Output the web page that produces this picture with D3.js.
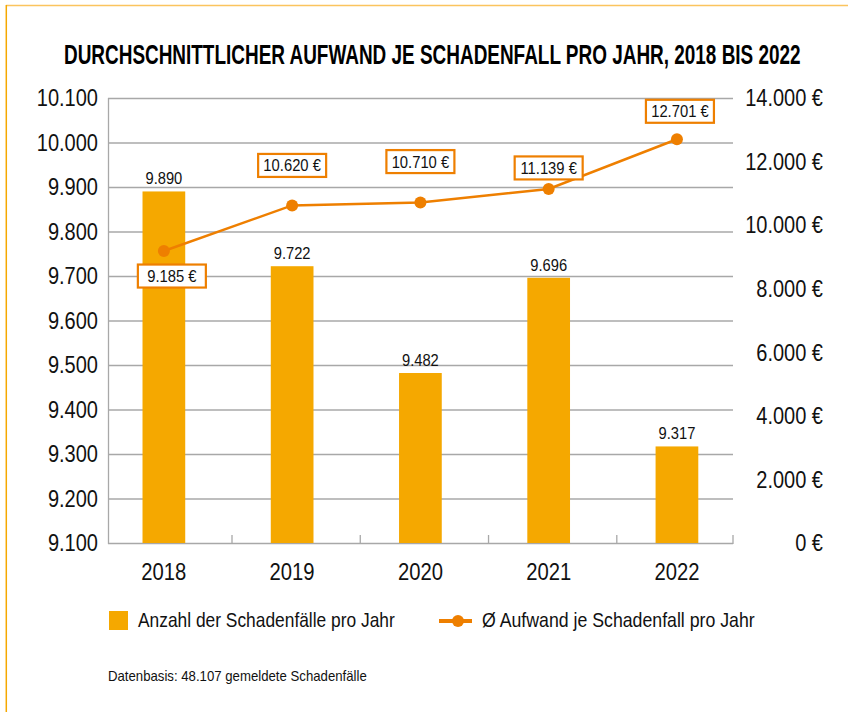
<!DOCTYPE html>
<html>
<head>
<meta charset="utf-8">
<script src="https://cdn.jsdelivr.net/npm/d3@7"></script>
<style>
  body { margin: 0; background: #fff; }
  svg { display: block; font-family: "Liberation Sans", Arial, sans-serif; }
</style>
</head>
<body>
<svg width="848" height="712"></svg>
<script>
const years = ["2018", "2019", "2020", "2021", "2022"];
const claimCounts = [9890, 9722, 9482, 9696, 9317];
const avgCost = [9185, 10620, 10710, 11139, 12701];
const leftTicks = d3.range(9100, 10101, 100);
const rightTicks = [0, 2000, 4000, 6000, 8000, 10000, 12000, 14000];
// where each cost label box sits relative to its point
const labelOffsets = [[8, 25], [0, -40], [0, -41], [0, -21], [3, -28]];

const barColor = "#f5a800";
const lineColor = "#ee7f00";
const gridColor = "#a8a8a8";
const textColor = "#111";

const de = d3.formatLocale({decimal: ",", thousands: ".", grouping: [3], currency: ["", " €"]});
const fmt = de.format(",d");
const fmtEur = d => fmt(d) + " €";

const svg = d3.select("svg");

// squeeze text horizontally to look like a narrow font
function narrow(sel, s) {
    sel.attr("transform", function() {
        const tx = +this.getAttribute("x") || 0, ty = +this.getAttribute("y") || 0;
        return `translate(${tx},${ty}) scale(${s},1) translate(${-tx},${-ty})`;
    });
}
function fitWidth(sel, w) {
    sel.each(function() {
        narrow(d3.select(this), w / this.getComputedTextLength());
    });
}

// frame
svg.append("line").attr("x1", 6).attr("x2", 848).attr("y1", 5.5).attr("y2", 5.5)
    .attr("stroke", "#fbc45e").attr("stroke-width", 1.5);
svg.append("line").attr("x1", 6.3).attr("x2", 6.3).attr("y1", 5).attr("y2", 712)
    .attr("stroke", barColor).attr("stroke-width", 1.5);

svg.append("text")
    .attr("x", 64).attr("y", 64)
    .attr("font-size", 27).attr("font-weight", "bold").attr("fill", "#000")
    .text("DURCHSCHNITTLICHER AUFWAND JE SCHADENFALL PRO JAHR, 2018 BIS 2022")
    .call(fitWidth, 737);

const plotLeft = 108, plotRight = 733, plotTop = 98, plotBottom = 543;

const x = d3.scaleBand().domain(years).range([99.8, 741]).paddingInner(0.667).paddingOuter(0.333);
const yL = d3.scaleLinear().domain([9100, 10100]).range([plotBottom, plotTop]);
const yR = d3.scaleLinear().domain([0, 14000]).range([plotBottom, plotTop]);

// gridlines
svg.append("g").selectAll("line").data(leftTicks).enter().append("line")
    .attr("x1", plotLeft).attr("x2", plotRight)
    .attr("y1", d => yL(d) + 0.5).attr("y2", d => yL(d) + 0.5)
    .attr("stroke", gridColor).attr("stroke-width", 1.3);

svg.append("line").attr("x1", plotLeft + 0.5).attr("x2", plotLeft + 0.5)
    .attr("y1", plotTop).attr("y2", plotBottom + 1)
    .attr("stroke", gridColor).attr("stroke-width", 1.3);

// x ticks between categories
const step = x.step();
const tickXs = years.slice(1).map(y => x(y) + x.bandwidth() / 2 - step / 2 + 4);
tickXs.push(plotRight);
svg.append("g").selectAll("line").data(tickXs).enter().append("line")
    .attr("x1", d => d).attr("x2", d => d)
    .attr("y1", plotBottom - 8).attr("y2", plotBottom + 1)
    .attr("stroke", gridColor).attr("stroke-width", 1.3);

// left axis labels
svg.append("g").selectAll("text").data(leftTicks).enter().append("text")
    .attr("x", 98).attr("y", d => yL(d) + 8.3)
    .attr("text-anchor", "end").attr("font-size", 23).attr("fill", textColor)
    .text(d => fmt(d))
    .call(narrow, 0.87);

// right axis labels
svg.append("g").selectAll("text").data(rightTicks).enter().append("text")
    .attr("x", 823).attr("y", d => yR(d) + 8.3)
    .attr("text-anchor", "end").attr("font-size", 23).attr("fill", textColor)
    .text(d => fmtEur(d))
    .call(narrow, 0.87);

// bars
svg.append("g").selectAll("rect").data(claimCounts).enter().append("rect")
    .attr("x", (d, i) => x(years[i]))
    .attr("width", x.bandwidth())
    .attr("y", d => yL(d))
    .attr("height", d => plotBottom - yL(d))
    .attr("fill", barColor);

svg.append("g").selectAll("text").data(claimCounts).enter().append("text")
    .attr("x", (d, i) => x(years[i]) + x.bandwidth() / 2)
    .attr("y", d => yL(d) - 7)
    .attr("text-anchor", "middle").attr("font-size", 16).attr("fill", textColor)
    .text(d => fmt(d))
    .call(narrow, 0.92);

// year labels
svg.append("g").selectAll("text").data(years).enter().append("text")
    .attr("x", d => x(d) + x.bandwidth() / 2)
    .attr("y", 580)
    .attr("text-anchor", "middle").attr("font-size", 23).attr("fill", textColor)
    .text(d => d)
    .call(narrow, 0.88);

// line
const cx = i => x(years[i]) + x.bandwidth() / 2;
const line = d3.line().x((d, i) => cx(i)).y(d => yR(d));
svg.append("path").datum(avgCost)
    .attr("d", line).attr("fill", "none")
    .attr("stroke", lineColor).attr("stroke-width", 2.5);

svg.append("g").selectAll("circle").data(avgCost).enter().append("circle")
    .attr("cx", (d, i) => cx(i)).attr("cy", d => yR(d))
    .attr("r", 6).attr("fill", lineColor);

// cost labels in boxes
const boxes = svg.append("g").selectAll("g").data(avgCost).enter().append("g")
    .attr("transform", (d, i) => `translate(${cx(i) + labelOffsets[i][0]},${yR(d) + labelOffsets[i][1]})`);
boxes.append("rect")
    .attr("x", -34).attr("y", -11.5).attr("width", 68).attr("height", 23)
    .attr("fill", "#fff").attr("stroke", lineColor).attr("stroke-width", 2.2);
boxes.append("text")
    .attr("x", 0).attr("y", 6).attr("text-anchor", "middle")
    .attr("font-size", 17).attr("fill", textColor)
    .text(d => fmtEur(d))
    .call(narrow, 0.87);

// legend
const legend = svg.append("g");
legend.append("rect").attr("x", 109).attr("y", 611).attr("width", 19).attr("height", 19).attr("fill", barColor);
legend.append("text").attr("x", 138).attr("y", 627.5).attr("font-size", 20).attr("fill", textColor)
    .text("Anzahl der Schadenfälle pro Jahr")
    .call(fitWidth, 257);
legend.append("line").attr("x1", 439).attr("x2", 472).attr("y1", 621).attr("y2", 621)
    .attr("stroke", lineColor).attr("stroke-width", 4);
legend.append("circle").attr("cx", 458).attr("cy", 621).attr("r", 6).attr("fill", lineColor);
legend.append("text").attr("x", 482).attr("y", 627.5).attr("font-size", 20).attr("fill", textColor)
    .text("Ø Aufwand je Schadenfall pro Jahr")
    .call(fitWidth, 273);

svg.append("text").attr("x", 108).attr("y", 681).attr("font-size", 14).attr("fill", textColor)
    .text("Datenbasis: 48.107 gemeldete Schadenfälle")
    .call(fitWidth, 259);
</script>
</body>
</html>
